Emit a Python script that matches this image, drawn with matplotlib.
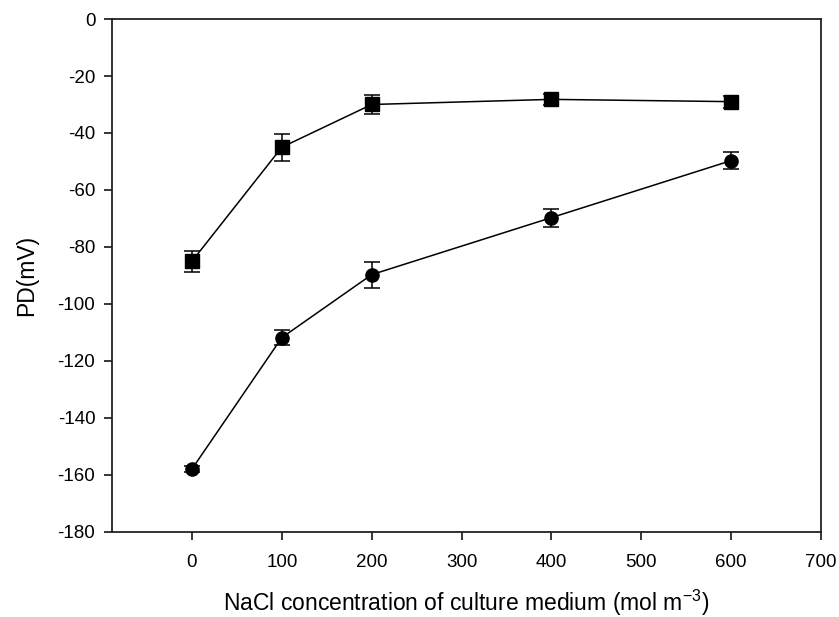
import matplotlib
matplotlib.use("Agg")
import matplotlib.pyplot as plt

plt.rcParams['font.family'] = ['Liberation Sans', 'DejaVu Sans']
plt.rcParams['mathtext.fontset'] = 'custom'
plt.rcParams['mathtext.rm'] = 'Liberation Sans'

nacl = [0, 100, 200, 400, 600]
pd_square = [-85, -45, -30, -28.2, -29]
err_square = [3.6, 4.7, 3.5, 1.9, 2.1]
pd_circle = [-157.9, -111.8, -89.7, -69.7, -49.7]
err_circle = [1.0, 2.6, 4.6, 3.2, 2.9]

xticks = [0, 100, 200, 300, 400, 500, 600, 700]
yticks = [0, -20, -40, -60, -80, -100, -120, -140, -160, -180]

fig = plt.figure(figsize=(8.39, 6.17), dpi=100)
ax = fig.add_axes([0.1335, 0.1378, 0.845, 0.8314])

ax.errorbar(nacl, pd_square, yerr=err_square, color='black', marker='s', markersize=9.5,
            linewidth=1.1, elinewidth=1.1, capsize=6, capthick=1.1)
ax.errorbar(nacl, pd_circle, yerr=err_circle, color='black', marker='o', markersize=9.5,
            linewidth=1.1, elinewidth=1.1, capsize=6, capthick=1.1)

ax.set_xlim(-89, 700)
ax.set_ylim(-180, 0)
ax.set_xticks(xticks)
ax.set_yticks(yticks)
ax.set_xticklabels([str(v) for v in xticks])
ax.set_yticklabels([str(v) for v in yticks])
ax.tick_params(direction='out', length=6, width=1.1, labelsize=13.5)
ax.tick_params(axis='x', pad=10)
ax.tick_params(axis='y', pad=6)
for s in ax.spines.values():
    s.set_linewidth(1.3)
    s.set_color('#222222')

ax.set_xlabel('NaCl concentration of culture medium (mol m$^{\\mathrm{-3}}$)', fontsize=16.5, labelpad=12)
ax.set_ylabel('PD(mV)', fontsize=16.5, labelpad=14)

fig.savefig('out.png', dpi=100)
